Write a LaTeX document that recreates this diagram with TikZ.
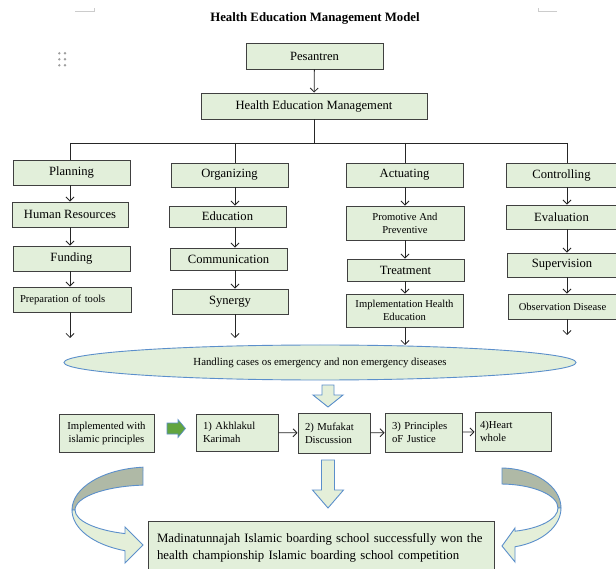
\documentclass[tikz,border=0pt]{standalone}
\usepackage{fontspec}
\setmainfont{Liberation Serif}
\usetikzlibrary{arrows.meta,shapes.geometric,calc}
\definecolor{boxg}{HTML}{E2EFDA}
\definecolor{frontg}{HTML}{E4EFD9}
\definecolor{bord}{HTML}{404040}
\definecolor{blu}{HTML}{5B8FCB}
\definecolor{backg}{HTML}{AFB9A6}
\definecolor{grn}{HTML}{62A43F}
\newcommand\fsz[2]{\fontsize{#1}{#2}\selectfont}
\tikzset{
  box/.style={draw=bord, fill=boxg, line width=0.9pt, inner sep=1pt, align=center, font=\fsz{12.6pt}{14pt}},
  sbox/.style={box, font=\fsz{10.6pt}{13pt}},
  lbox/.style={box, font=\fsz{10.7pt}{13pt}, align=left, inner xsep=7pt},
  ln/.style={draw=black!85, line width=0.8pt},
  arr/.style={ln, -{Straight Barb[length=4pt,width=8pt]}},
  hol/.style={draw=blu, fill=frontg, line width=0.9pt, line join=miter},
  cb/.style={draw=blu, line width=0.9pt, line join=miter},
  pagemark/.style={draw=gray!40, line width=0.6pt}
}
\begin{document}
\begin{tikzpicture}[x=1pt, y=1pt]
\useasboundingbox (0,0) rectangle (616,-569);
\clip (0,0) rectangle (616,-569);
\fill[white] (0,0) rectangle (616,-569);

% page marks and handle
\draw[pagemark] (75,-11) -- (94,-11) -- (94,-8.5);
\draw[pagemark] (557,-11) -- (538,-11) -- (538,-8.5);
\foreach \dx in {59.3,65}
  \foreach \dy in {53.3,59.3,65.3}
    \fill[gray!75] (\dx,-\dy) circle (1.3);

% title
\node[font=\bfseries\fsz{12.8pt}{14pt}] (title) at (315,-18) {Health Education Management Model};

% top
\node[box, minimum width=137, minimum height=26] (pes) at (314.5,-56) {Pesantren};
\node[box, minimum width=226, minimum height=26] (hem) at (314,-106) {Health Education Management};
\draw[arr] (pes) -- (hem);

\coordinate (bar) at (314,-143);
\coordinate (c1) at (70,-143);
\coordinate (c2) at (235,-143);
\coordinate (c3) at (405,-143);
\coordinate (c4) at (567,-143);

% column 1
\node[box, minimum width=117, minimum height=25] (plan) at (71.5,-172.5) {Planning};
\node[box, minimum width=116, minimum height=25] (hr) at (70,-214.5) {Human Resources};
\node[box, minimum width=117, minimum height=25] (fund) at (71.5,-258.5) {Funding};
\node[sbox, align=left, text width=104, inner xsep=7pt, minimum height=25] (prep) at (72,-299.5) {Preparation of tools};
% column 2
\node[box, minimum width=117, minimum height=24] (org) at (229.5,-175) {Organizing};
\node[box, minimum width=117, minimum height=21] (edu) at (227.5,-216.5) {Education};
\node[box, minimum width=117, minimum height=22] (com) at (228.5,-259) {Communication};
\node[box, minimum width=116, minimum height=25] (syn) at (230,-301.5) {Synergy};
% column 3
\node[box, minimum width=117, minimum height=24] (act) at (404.5,-175) {Actuating};
\node[sbox, minimum width=118, minimum height=34] (pro) at (405,-223) {Promotive And\\Preventive};
\node[box, minimum width=117, minimum height=22] (tre) at (405.5,-270) {Treatment};
\node[sbox, minimum width=117, minimum height=33] (imp) at (404.5,-310.5) {Implementation Health\\Education};
% column 4
\node[box, minimum width=110, minimum height=24] (ctl) at (561.5,-175) {Controlling};
\node[box, minimum width=110, minimum height=24] (eva) at (561.5,-217) {Evaluation};
\node[box, minimum width=109, minimum height=24] (sup) at (562,-265) {Supervision};
\node[sbox, minimum width=108, minimum height=25] (obs) at (562.5,-306.5) {Observation Disease};

% tree lines
\draw[ln] (hem.south) -- (bar);
\draw[ln] (c1) -- (c4);
\draw[ln] (c1) -- (c1 |- plan.north);
\draw[ln] (c2) -- (c2 |- org.north);
\draw[ln] (c3) -- (c3 |- act.north);
\draw[ln] (c4) -- (c4 |- ctl.north);

% column arrows
\draw[arr] (plan.south -| c1) -- (hr.north -| c1);
\draw[arr] (hr.south -| c1) -- (fund.north -| c1);
\draw[arr] (fund.south -| c1) -- (prep.north -| c1);
\draw[arr] (org.south -| c2) -- (edu.north -| c2);
\draw[arr] (edu.south -| c2) -- (com.north -| c2);
\draw[arr] (com.south -| c2) -- (syn.north -| c2);
\draw[arr] (act.south -| c3) -- (pro.north -| c3);
\draw[arr] (pro.south -| c3) -- (tre.north -| c3);
\draw[arr] (tre.south -| c3) -- (imp.north -| c3);
\draw[arr] (ctl.south -| c4) -- (eva.north -| c4);
\draw[arr] (eva.south -| c4) -- (sup.north -| c4);
\draw[arr] (sup.south -| c4) -- (obs.north -| c4);

\coordinate (e1) at (70,-338);
\coordinate (e2) at (235,-338);
\coordinate (e3) at (405,-345);
\coordinate (e4) at (567,-335);
\draw[arr] (prep.south -| e1) -- (e1);
\draw[arr] (syn.south -| e2) -- (e2);
\draw[arr] (imp.south -| e3) -- (e3);
\draw[arr] (obs.south -| e4) -- (e4);

% ellipse
\node[ellipse, draw=blu, fill=boxg, line width=0.9pt, minimum width=512, minimum height=35, inner sep=0pt, font=\fsz{10.8pt}{12pt}] (ell) at (320,-362.5) {Handling cases os emergency and non emergency diseases};

% hollow down arrow 1
\draw[hol] (322,-385) -- (334,-385) -- (334,-395) -- (343,-395) -- (328,-407) -- (313,-395) -- (322,-395) -- cycle;

% bottom row
\node[sbox, font=\fsz{10.7pt}{13pt}, minimum width=95, minimum height=38] (impl) at (106.5,-433) {Implemented with\\islamic principles};
\draw[draw=blu, fill=grn, line width=0.6pt, line join=miter] (167,-423) -- (178,-423) -- (178,-419.5) -- (185.5,-428.5) -- (178,-437.5) -- (178,-434) -- (167,-434) -- cycle;
\node[lbox, text width=68, minimum height=37] (ak) at (237,-432.5) {1) Akhlakul\\Karimah};
\node[lbox, text width=58, minimum height=40] (mu) at (334,-433) {2) Mufakat\\Discussion};
\node[lbox, text width=63, minimum height=39] (pj) at (423.5,-432.5) {3) Principles\\oF Justice};
\node[lbox, text width=66, inner xsep=5pt, minimum height=39] (hw) at (513,-431.5) {4)Heart\\whole};
\draw[arr] (ak) -- (mu);
\draw[arr] (mu) -- (pj);
\draw[arr] (pj) -- (hw);

% hollow down arrow 2
\draw[hol] (321.5,-460) -- (334.5,-460) -- (334.5,-490) -- (343.5,-490) -- (328,-508) -- (312.5,-490) -- (321.5,-490) -- cycle;

% curved arrows: left
\draw[cb, fill=backg] (150,-510) ++(95.15:78 and 43) arc[start angle=95.15, end angle=180, x radius=78, y radius=43] -- (75,-510) arc[start angle=180, end angle=95.36, x radius=75, y radius=25] -- cycle;
\draw[cb, fill=frontg] (72,-510) arc[start angle=180, end angle=251.3, x radius=78, y radius=43] -- (125,-563) -- (143,-545) -- (125,-527) -- (125,-533.6) arc[start angle=250.5, end angle=180, x radius=75, y radius=25] -- cycle;
% curved arrows: right
\draw[cb, fill=backg] (502,-468) arc[start angle=88.12, end angle=0, x radius=61, y radius=40] -- (558,-508) arc[start angle=0, end angle=88.02, x radius=58, y radius=24] -- cycle;
\draw[cb, fill=frontg] (561,-508) arc[start angle=0, end angle=-75.76, x radius=61, y radius=40] -- (515,-562) -- (502,-546) -- (515,-528) -- (515,-531.2) arc[start angle=-75.0, end angle=0, x radius=58, y radius=24] -- cycle;

% final box
\node[box, font=\fsz{12.8pt}{17pt}, align=left, text width=328, inner xsep=9pt, minimum height=54] (fin) at (321,-548) {Madinatunnajah Islamic boarding school successfully won the\\health championship Islamic boarding school competition};
\end{tikzpicture}
\end{document}
